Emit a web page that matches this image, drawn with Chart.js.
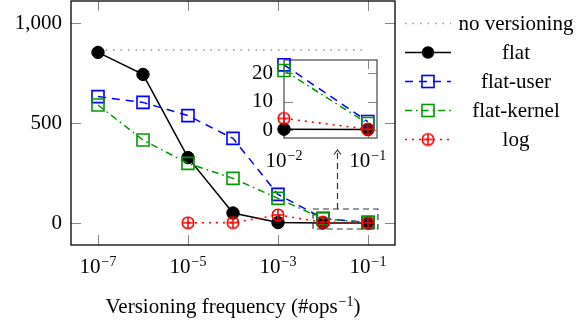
<!DOCTYPE html>
<html><head><meta charset="utf-8">
<script src="https://cdn.jsdelivr.net/npm/chart.js@4.4.1/dist/chart.umd.min.js"></script>
<style>
html,body{margin:0;padding:0;background:#fff;}
#wrap{position:relative;width:588px;height:323px;overflow:hidden;}
#main{position:absolute;left:0;top:0;}
#inset{position:absolute;left:230px;top:45px;}
</style></head><body>
<div id="wrap">
<canvas id="main" width="588" height="323"></canvas>
<canvas id="inset" width="160" height="135"></canvas>
</div>
<script>
// ---- data ----
const freqs = [1e-7, 1e-6, 1e-5, 1e-4, 1e-3, 1e-2, 1e-1];
const noVersioningX = [1e-7, 1e-1];
const noVersioning = [865, 865];
const flat = [853, 743, 327, 50, 2, 0.3, 0.2];
const flatUser = [632, 603, 537, 423, 143, 23, 3];
const flatKernel = [590, 415, 298, 223, 123, 21, 2.3];
const logSeries = [null, null, 1, 2, 40, 4.1, 0.3];
const seriesLabels = ['no versioning', 'flat', 'flat-user', 'flat-kernel', 'log'];
const xTicks = [1e-7, 1e-5, 1e-3, 1e-1];
const yTicks = [0, 500, 1000];
const insetFrom = 5;               // inset shows 10^-2 .. 10^-1
const insetXTicks = [1e-2, 1e-1];
const insetYTicks = [0, 10, 20];
const zoomBoxX = [0.006, 0.166];    // dashed box in data units
const zoomBoxY = [-30, 70];
const arrowX = 0.0204;
const arrowTopY = 365;
const xTitleBase = 'Versioning frequency (#ops';
const xTitleExp = '\u22121';
const xTitleEnd = ')';

// ---- styling ----
const FAM = "'Liberation Serif', 'Times New Roman', serif";
const FS = 21, FS_SUP = 14, SUP_RAISE = 7;
const FONT = {family: FAM, size: FS};
const GREEN = '#009a00';

function expOf(v){ const e = Math.round(Math.log10(v)); return (e < 0 ? '\u2212' : '') + Math.abs(e); }

// draws base + superscript (+ tail), centred on cx, on the given baseline
function drawSup(ctx, base, exp, tail, cx, baseline){
  ctx.save();
  ctx.fillStyle = '#000'; ctx.textBaseline = 'alphabetic'; ctx.textAlign = 'left';
  ctx.font = FS + 'px ' + FAM; const wb = ctx.measureText(base).width; const wt = tail ? ctx.measureText(tail).width : 0;
  ctx.font = FS_SUP + 'px ' + FAM; const we = ctx.measureText(exp).width;
  const gap = 1;
  let x = cx - (wb + gap + we + wt) / 2;
  ctx.font = FS + 'px ' + FAM; ctx.fillText(base, x, baseline); x += wb + gap;
  ctx.font = FS_SUP + 'px ' + FAM; ctx.fillText(exp, x, baseline - SUP_RAISE); x += we;
  if (tail){ ctx.font = FS + 'px ' + FAM; ctx.fillText(tail, x, baseline); }
  ctx.restore();
}

function makeOplus(color, r, lw){
  const s = Math.ceil(2*r + lw + 2);
  const c = document.createElement('canvas'); c.width = s; c.height = s;
  const g = c.getContext('2d'); g.strokeStyle = color; g.lineWidth = lw;
  const m = s/2;
  g.beginPath(); g.arc(m, m, r, 0, 2*Math.PI);
  g.moveTo(m - r, m); g.lineTo(m + r, m); g.moveTo(m, m - r); g.lineTo(m, m + r);
  g.stroke(); return c;
}
const oplus = makeOplus('#ff0000', 5.8, 1.5);

function pts(xs, ys, from){ const out=[]; for(let i=from;i<xs.length;i++){ if(ys[i]!==null) out.push({x:xs[i], y:ys[i]}); } return out; }

function buildDatasets(from, withNoVers){
  const ds = [];
  if (withNoVers) ds.push({label: seriesLabels[0], data: pts(noVersioningX, noVersioning, 0), borderColor:'#999', borderWidth:1.6, borderDash:[1.6,5.9], pointRadius:0, order:4, clip:false, mk:'none'});
  ds.push({label: seriesLabels[1], data: pts(freqs, flat, from), borderColor:'#000', borderWidth:1.5, pointStyle:'circle', pointRadius:6.2, pointBackgroundColor:'#000', pointBorderColor:'#000', pointBorderWidth:1, order:3, clip:false, mk:'circle'});
  ds.push({label: seriesLabels[2], data: pts(freqs, flatUser, from), borderColor:'#0000ff', borderWidth:1.5, borderDash:[8,6], pointStyle:'rect', pointRadius:8.5, pointBackgroundColor:'rgba(0,0,0,0)', pointBorderColor:'#0000ff', pointBorderWidth:1.6, order:2, clip:false, mk:'rect'});
  ds.push({label: seriesLabels[3], data: pts(freqs, flatKernel, from), borderColor:GREEN, borderWidth:1.5, borderDash:[7,4,1.6,4], pointStyle:'rect', pointRadius:8.5, pointBackgroundColor:'rgba(0,0,0,0)', pointBorderColor:GREEN, pointBorderWidth:1.6, order:1, clip:false, mk:'rect'});
  ds.push({label: seriesLabels[4], data: pts(freqs, logSeries, from), borderColor:'#ff0000', borderWidth:1.6, borderDash:[2,5], pointStyle:oplus, pointRadius:6, order:0, clip:false, mk:'oplus'});
  return ds;
}

function frameAndTicks(chart, frameColor, tickLen){
  const {ctx, chartArea:a, scales:{x, y}} = chart;
  ctx.save();
  ctx.strokeStyle = 'rgb(135,135,135)'; ctx.lineWidth = 1;
  ctx.beginPath();
  for (const t of y.ticks){ const py = Math.round(y.getPixelForValue(t.value)) + 0.5;
    ctx.moveTo(a.left, py); ctx.lineTo(a.left + tickLen, py);
    ctx.moveTo(a.right, py); ctx.lineTo(a.right - tickLen, py); }
  for (const t of x.ticks){ const px = Math.round(x.getPixelForValue(t.value)) + 0.5;
    ctx.moveTo(px, a.bottom); ctx.lineTo(px, a.bottom - tickLen);
    ctx.moveTo(px, a.top); ctx.lineTo(px, a.top + tickLen); }
  ctx.stroke();
  ctx.strokeStyle = frameColor; ctx.lineWidth = 1.3;
  ctx.strokeRect(a.left, a.top, a.right - a.left, a.bottom - a.top);
  ctx.restore();
}

function drawXLabels(chart, dy){
  const {ctx, chartArea:a, scales:{x}} = chart;
  for (const t of x.ticks){ drawSup(ctx, '10', expOf(t.value), '', x.getPixelForValue(t.value), a.bottom + dy); }
}

function drawMarker(ctx, ds, x, y){
  ctx.save(); ctx.setLineDash([]);
  if (ds.mk === 'circle'){ ctx.fillStyle = ds.pointBackgroundColor; ctx.beginPath(); ctx.arc(x, y, ds.pointRadius, 0, 2*Math.PI); ctx.fill(); }
  else if (ds.mk === 'rect'){ const h = ds.pointRadius*Math.SQRT1_2; ctx.strokeStyle = ds.pointBorderColor; ctx.lineWidth = ds.pointBorderWidth; ctx.strokeRect(x-h, y-h, 2*h, 2*h); }
  else if (ds.mk === 'oplus'){ ctx.drawImage(oplus, x - oplus.width/2, y - oplus.height/2); }
  ctx.restore();
}

const mainPlugin = {
  id: 'mainDeco',
  beforeDatasetsDraw(chart){ frameAndTicks(chart, '#000', 10); },
  afterDatasetsDraw(chart){
    const {ctx, chartArea:a, scales:{x, y}} = chart;
    drawXLabels(chart, 28);
    drawSup(ctx, xTitleBase, xTitleExp, xTitleEnd, (a.left + a.right)/2, a.bottom + 68);
    ctx.save();
    // zoom box
    const x1 = x.getPixelForValue(zoomBoxX[0]), x2 = x.getPixelForValue(zoomBoxX[1]);
    const y1 = y.getPixelForValue(zoomBoxY[1]), y2 = y.getPixelForValue(zoomBoxY[0]);
    ctx.strokeStyle = '#333'; ctx.lineWidth = 1.2; ctx.setLineDash([6,4]);
    ctx.strokeRect(x1, y1, x2 - x1, y2 - y1);
    const ax = Math.round(x.getPixelForValue(arrowX)) + 0.5, ay = y.getPixelForValue(arrowTopY);
    ctx.beginPath(); ctx.moveTo(ax, y1); ctx.lineTo(ax, ay + 1); ctx.stroke();
    ctx.setLineDash([]); ctx.beginPath(); ctx.moveTo(ax - 3.5, ay + 4.5); ctx.lineTo(ax, ay); ctx.lineTo(ax + 3.5, ay + 4.5); ctx.stroke();
    // legend
    const dss = chart.data.datasets;
    const lx0 = a.right + 10, lx1 = a.right + 56, lmx = a.right + 33, ltx = a.right + 121;
    ctx.font = FS + 'px ' + FAM; ctx.textAlign = 'center'; ctx.textBaseline = 'middle'; ctx.fillStyle = '#000';
    dss.forEach((ds, i) => {
      const ry = 23 + i*29;
      ctx.save(); ctx.strokeStyle = ds.borderColor; ctx.lineWidth = ds.borderWidth; ctx.setLineDash(ds.borderDash || []);
      ctx.beginPath(); ctx.moveTo(lx0, ry + 0.5); ctx.lineTo(lx1, ry + 0.5); ctx.stroke(); ctx.restore();
      drawMarker(ctx, ds, lmx, ry + 0.5);
      ctx.fillText(ds.label, ltx, ry + 1);
    });
    ctx.restore();
  }
};

const insetPlugin = {
  id: 'insetDeco',
  beforeDatasetsDraw(chart){
    const {ctx, chartArea:a} = chart;
    ctx.save(); ctx.fillStyle = '#fff'; ctx.fillRect(a.left, a.top, a.right - a.left, a.bottom - a.top); ctx.restore();
    frameAndTicks(chart, '#555', 9);
  },
  afterDatasetsDraw(chart){ drawXLabels(chart, 29); }
};

function noPadX(s, h){ s.height = h; s.paddingLeft = 0; s.paddingRight = 0; s.paddingTop = 0; s.paddingBottom = 0; }
function noPadY(s, w){ s.width = w; s.paddingLeft = 0; s.paddingRight = 0; s.paddingTop = 0; s.paddingBottom = 0; }
function axisCommon(){ return { grid:{display:false, drawTicks:false}, border:{display:false} }; }

new Chart(document.getElementById('main'), {
  type: 'line',
  data: { datasets: buildDatasets(0, true) },
  options: {
    responsive:false, animation:false, events:[],
    layout:{autoPadding:false, padding:{top:1, right:193, left:0, bottom:0}},
    plugins:{legend:{display:false}, tooltip:{enabled:false}},
    scales:{
      x: Object.assign(axisCommon(), {
        type:'logarithmic', min:Math.pow(10,-7.6), max:Math.pow(10,-0.4),
        afterBuildTicks: s => { s.ticks = xTicks.map(v => ({value:v})); },
        ticks:{display:false},
        afterFit: s => noPadX(s, 78)
      }),
      y: Object.assign(axisCommon(), {
        type:'linear', min:-110, max:1110,
        afterBuildTicks: s => { s.ticks = yTicks.map(v => ({value:v})); },
        ticks:{callback: v => v.toLocaleString('en-US'), font:FONT, color:'#000', padding:9},
        afterFit: s => noPadY(s, 71)
      })
    }
  },
  plugins:[mainPlugin]
});

new Chart(document.getElementById('inset'), {
  type: 'line',
  data: { datasets: buildDatasets(insetFrom, false) },
  options: {
    responsive:false, animation:false, events:[],
    layout:{autoPadding:false, padding:{top:15, right:13, left:0, bottom:0}},
    plugins:{legend:{display:false}, tooltip:{enabled:false}},
    scales:{
      x: Object.assign(axisCommon(), {
        type:'logarithmic', min:1e-2, max:Math.pow(10,-0.89),
        afterBuildTicks: s => { s.ticks = insetXTicks.map(v => ({value:v})); },
        ticks:{display:false},
        afterFit: s => noPadX(s, 42)
      }),
      y: Object.assign(axisCommon(), {
        type:'linear', min:-2.8, max:24.7,
        afterBuildTicks: s => { s.ticks = insetYTicks.map(v => ({value:v})); },
        ticks:{callback: v => String(v), font:FONT, color:'#000', padding:11},
        afterFit: s => noPadY(s, 54)
      })
    }
  },
  plugins:[insetPlugin]
});
</script>
</body></html>
